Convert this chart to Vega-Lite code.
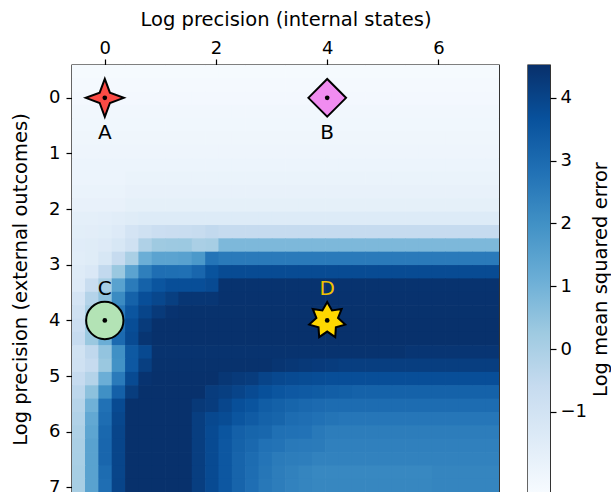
{
"$schema": "https://vega.github.io/schema/vega-lite/v6.json",
"padding": {"left": 9, "top": 8, "right": 0, "bottom": 0},
"config": {
  "font": "DejaVu Sans",
  "view": {"stroke": "black", "strokeWidth": 1.4},
  "axis": {"grid": false, "domain": false, "labelColor": "black", "titleColor": "black", "tickColor": "black", "labelFontSize": 18, "titleFontSize": 19.5, "titleFontWeight": "normal", "tickSize": 6, "tickWidth": 1.2, "labelFont": "DejaVu Sans", "titleFont": "DejaVu Sans"}
},
"datasets": {
"markers": [{"name":"A","x":0,"y":0},{"name":"B","x":4,"y":0},{"name":"C","x":0,"y":4},{"name":"D","x":4,"y":4}],
"colorbar": [{"lo":-2.29,"hi":4.52}],
"grid": [
{"x":-0.47,"y":-0.47,"v":-2.22},{"x":-0.23,"y":-0.47,"v":-2.22},{"x":0.01,"y":-0.47,"v":-2.22},{"x":0.25,"y":-0.47,"v":-2.22},{"x":0.49,"y":-0.47,"v":-2.22},{"x":0.73,"y":-0.47,"v":-2.22},{"x":0.97,"y":-0.47,"v":-2.22},{"x":1.21,"y":-0.47,"v":-2.22},{"x":1.45,"y":-0.47,"v":-2.22},{"x":1.69,"y":-0.47,"v":-2.22},{"x":1.93,"y":-0.47,"v":-2.22},{"x":2.17,"y":-0.47,"v":-2.22},{"x":2.41,"y":-0.47,"v":-2.22},{"x":2.65,"y":-0.47,"v":-2.22},{"x":2.89,"y":-0.47,"v":-2.22},{"x":3.13,"y":-0.47,"v":-2.22},{"x":3.37,"y":-0.47,"v":-2.22},{"x":3.61,"y":-0.47,"v":-2.22},{"x":3.85,"y":-0.47,"v":-2.22},{"x":4.09,"y":-0.47,"v":-2.22},{"x":4.33,"y":-0.47,"v":-2.22},{"x":4.57,"y":-0.47,"v":-2.22},{"x":4.81,"y":-0.47,"v":-2.22},{"x":5.05,"y":-0.47,"v":-2.22},{"x":5.29,"y":-0.47,"v":-2.22},{"x":5.53,"y":-0.47,"v":-2.22},{"x":5.77,"y":-0.47,"v":-2.22},{"x":6.01,"y":-0.47,"v":-2.22},{"x":6.25,"y":-0.47,"v":-2.22},{"x":6.49,"y":-0.47,"v":-2.22},{"x":6.73,"y":-0.47,"v":-2.22},{"x":6.97,"y":-0.47,"v":-2.22},
{"x":-0.47,"y":-0.23,"v":-2.18},{"x":-0.23,"y":-0.23,"v":-2.18},{"x":0.01,"y":-0.23,"v":-2.18},{"x":0.25,"y":-0.23,"v":-2.18},{"x":0.49,"y":-0.23,"v":-2.18},{"x":0.73,"y":-0.23,"v":-2.18},{"x":0.97,"y":-0.23,"v":-2.18},{"x":1.21,"y":-0.23,"v":-2.18},{"x":1.45,"y":-0.23,"v":-2.18},{"x":1.69,"y":-0.23,"v":-2.18},{"x":1.93,"y":-0.23,"v":-2.18},{"x":2.17,"y":-0.23,"v":-2.18},{"x":2.41,"y":-0.23,"v":-2.18},{"x":2.65,"y":-0.23,"v":-2.18},{"x":2.89,"y":-0.23,"v":-2.18},{"x":3.13,"y":-0.23,"v":-2.18},{"x":3.37,"y":-0.23,"v":-2.18},{"x":3.61,"y":-0.23,"v":-2.18},{"x":3.85,"y":-0.23,"v":-2.18},{"x":4.09,"y":-0.23,"v":-2.18},{"x":4.33,"y":-0.23,"v":-2.18},{"x":4.57,"y":-0.23,"v":-2.18},{"x":4.81,"y":-0.23,"v":-2.18},{"x":5.05,"y":-0.23,"v":-2.18},{"x":5.29,"y":-0.23,"v":-2.18},{"x":5.53,"y":-0.23,"v":-2.18},{"x":5.77,"y":-0.23,"v":-2.18},{"x":6.01,"y":-0.23,"v":-2.18},{"x":6.25,"y":-0.23,"v":-2.18},{"x":6.49,"y":-0.23,"v":-2.18},{"x":6.73,"y":-0.23,"v":-2.18},{"x":6.97,"y":-0.23,"v":-2.18},
{"x":-0.47,"y":0.01,"v":-2.14},{"x":-0.23,"y":0.01,"v":-2.14},{"x":0.01,"y":0.01,"v":-2.14},{"x":0.25,"y":0.01,"v":-2.14},{"x":0.49,"y":0.01,"v":-2.14},{"x":0.73,"y":0.01,"v":-2.14},{"x":0.97,"y":0.01,"v":-2.14},{"x":1.21,"y":0.01,"v":-2.14},{"x":1.45,"y":0.01,"v":-2.14},{"x":1.69,"y":0.01,"v":-2.14},{"x":1.93,"y":0.01,"v":-2.14},{"x":2.17,"y":0.01,"v":-2.14},{"x":2.41,"y":0.01,"v":-2.14},{"x":2.65,"y":0.01,"v":-2.14},{"x":2.89,"y":0.01,"v":-2.14},{"x":3.13,"y":0.01,"v":-2.14},{"x":3.37,"y":0.01,"v":-2.14},{"x":3.61,"y":0.01,"v":-2.14},{"x":3.85,"y":0.01,"v":-2.14},{"x":4.09,"y":0.01,"v":-2.14},{"x":4.33,"y":0.01,"v":-2.14},{"x":4.57,"y":0.01,"v":-2.14},{"x":4.81,"y":0.01,"v":-2.14},{"x":5.05,"y":0.01,"v":-2.14},{"x":5.29,"y":0.01,"v":-2.14},{"x":5.53,"y":0.01,"v":-2.14},{"x":5.77,"y":0.01,"v":-2.14},{"x":6.01,"y":0.01,"v":-2.14},{"x":6.25,"y":0.01,"v":-2.14},{"x":6.49,"y":0.01,"v":-2.14},{"x":6.73,"y":0.01,"v":-2.14},{"x":6.97,"y":0.01,"v":-2.14},
{"x":-0.47,"y":0.25,"v":-2.1},{"x":-0.23,"y":0.25,"v":-2.1},{"x":0.01,"y":0.25,"v":-2.1},{"x":0.25,"y":0.25,"v":-2.1},{"x":0.49,"y":0.25,"v":-2.1},{"x":0.73,"y":0.25,"v":-2.1},{"x":0.97,"y":0.25,"v":-2.1},{"x":1.21,"y":0.25,"v":-2.1},{"x":1.45,"y":0.25,"v":-2.1},{"x":1.69,"y":0.25,"v":-2.1},{"x":1.93,"y":0.25,"v":-2.1},{"x":2.17,"y":0.25,"v":-2.1},{"x":2.41,"y":0.25,"v":-2.1},{"x":2.65,"y":0.25,"v":-2.1},{"x":2.89,"y":0.25,"v":-2.1},{"x":3.13,"y":0.25,"v":-2.1},{"x":3.37,"y":0.25,"v":-2.1},{"x":3.61,"y":0.25,"v":-2.1},{"x":3.85,"y":0.25,"v":-2.1},{"x":4.09,"y":0.25,"v":-2.1},{"x":4.33,"y":0.25,"v":-2.1},{"x":4.57,"y":0.25,"v":-2.1},{"x":4.81,"y":0.25,"v":-2.1},{"x":5.05,"y":0.25,"v":-2.1},{"x":5.29,"y":0.25,"v":-2.1},{"x":5.53,"y":0.25,"v":-2.1},{"x":5.77,"y":0.25,"v":-2.1},{"x":6.01,"y":0.25,"v":-2.1},{"x":6.25,"y":0.25,"v":-2.1},{"x":6.49,"y":0.25,"v":-2.1},{"x":6.73,"y":0.25,"v":-2.1},{"x":6.97,"y":0.25,"v":-2.1},
{"x":-0.47,"y":0.49,"v":-2.06},{"x":-0.23,"y":0.49,"v":-2.06},{"x":0.01,"y":0.49,"v":-2.06},{"x":0.25,"y":0.49,"v":-2.06},{"x":0.49,"y":0.49,"v":-2.06},{"x":0.73,"y":0.49,"v":-2.06},{"x":0.97,"y":0.49,"v":-2.06},{"x":1.21,"y":0.49,"v":-2.06},{"x":1.45,"y":0.49,"v":-2.06},{"x":1.69,"y":0.49,"v":-2.06},{"x":1.93,"y":0.49,"v":-2.06},{"x":2.17,"y":0.49,"v":-2.06},{"x":2.41,"y":0.49,"v":-2.06},{"x":2.65,"y":0.49,"v":-2.06},{"x":2.89,"y":0.49,"v":-2.06},{"x":3.13,"y":0.49,"v":-2.06},{"x":3.37,"y":0.49,"v":-2.06},{"x":3.61,"y":0.49,"v":-2.06},{"x":3.85,"y":0.49,"v":-2.06},{"x":4.09,"y":0.49,"v":-2.06},{"x":4.33,"y":0.49,"v":-2.06},{"x":4.57,"y":0.49,"v":-2.06},{"x":4.81,"y":0.49,"v":-2.06},{"x":5.05,"y":0.49,"v":-2.06},{"x":5.29,"y":0.49,"v":-2.06},{"x":5.53,"y":0.49,"v":-2.06},{"x":5.77,"y":0.49,"v":-2.06},{"x":6.01,"y":0.49,"v":-2.06},{"x":6.25,"y":0.49,"v":-2.06},{"x":6.49,"y":0.49,"v":-2.06},{"x":6.73,"y":0.49,"v":-2.06},{"x":6.97,"y":0.49,"v":-2.06},
{"x":-0.47,"y":0.73,"v":-2.02},{"x":-0.23,"y":0.73,"v":-2.02},{"x":0.01,"y":0.73,"v":-2.02},{"x":0.25,"y":0.73,"v":-2.02},{"x":0.49,"y":0.73,"v":-2.02},{"x":0.73,"y":0.73,"v":-2.02},{"x":0.97,"y":0.73,"v":-2.02},{"x":1.21,"y":0.73,"v":-2.02},{"x":1.45,"y":0.73,"v":-2.02},{"x":1.69,"y":0.73,"v":-2.02},{"x":1.93,"y":0.73,"v":-2.02},{"x":2.17,"y":0.73,"v":-2.02},{"x":2.41,"y":0.73,"v":-2.02},{"x":2.65,"y":0.73,"v":-2.02},{"x":2.89,"y":0.73,"v":-2.02},{"x":3.13,"y":0.73,"v":-2.02},{"x":3.37,"y":0.73,"v":-2.02},{"x":3.61,"y":0.73,"v":-2.02},{"x":3.85,"y":0.73,"v":-2.02},{"x":4.09,"y":0.73,"v":-2.02},{"x":4.33,"y":0.73,"v":-2.02},{"x":4.57,"y":0.73,"v":-2.02},{"x":4.81,"y":0.73,"v":-2.02},{"x":5.05,"y":0.73,"v":-2.02},{"x":5.29,"y":0.73,"v":-2.02},{"x":5.53,"y":0.73,"v":-2.02},{"x":5.77,"y":0.73,"v":-2.02},{"x":6.01,"y":0.73,"v":-2.02},{"x":6.25,"y":0.73,"v":-2.02},{"x":6.49,"y":0.73,"v":-2.02},{"x":6.73,"y":0.73,"v":-2.02},{"x":6.97,"y":0.73,"v":-2.02},
{"x":-0.47,"y":0.97,"v":-1.97},{"x":-0.23,"y":0.97,"v":-1.97},{"x":0.01,"y":0.97,"v":-1.97},{"x":0.25,"y":0.97,"v":-1.97},{"x":0.49,"y":0.97,"v":-1.97},{"x":0.73,"y":0.97,"v":-1.97},{"x":0.97,"y":0.97,"v":-1.97},{"x":1.21,"y":0.97,"v":-1.97},{"x":1.45,"y":0.97,"v":-1.97},{"x":1.69,"y":0.97,"v":-1.97},{"x":1.93,"y":0.97,"v":-1.97},{"x":2.17,"y":0.97,"v":-1.97},{"x":2.41,"y":0.97,"v":-1.97},{"x":2.65,"y":0.97,"v":-1.97},{"x":2.89,"y":0.97,"v":-1.97},{"x":3.13,"y":0.97,"v":-1.97},{"x":3.37,"y":0.97,"v":-1.97},{"x":3.61,"y":0.97,"v":-1.97},{"x":3.85,"y":0.97,"v":-1.97},{"x":4.09,"y":0.97,"v":-1.97},{"x":4.33,"y":0.97,"v":-1.97},{"x":4.57,"y":0.97,"v":-1.97},{"x":4.81,"y":0.97,"v":-1.97},{"x":5.05,"y":0.97,"v":-1.97},{"x":5.29,"y":0.97,"v":-1.97},{"x":5.53,"y":0.97,"v":-1.97},{"x":5.77,"y":0.97,"v":-1.97},{"x":6.01,"y":0.97,"v":-1.97},{"x":6.25,"y":0.97,"v":-1.97},{"x":6.49,"y":0.97,"v":-1.97},{"x":6.73,"y":0.97,"v":-1.97},{"x":6.97,"y":0.97,"v":-1.97},
{"x":-0.47,"y":1.21,"v":-1.92},{"x":-0.23,"y":1.21,"v":-1.92},{"x":0.01,"y":1.21,"v":-1.92},{"x":0.25,"y":1.21,"v":-1.92},{"x":0.49,"y":1.21,"v":-1.92},{"x":0.73,"y":1.21,"v":-1.92},{"x":0.97,"y":1.21,"v":-1.92},{"x":1.21,"y":1.21,"v":-1.92},{"x":1.45,"y":1.21,"v":-1.92},{"x":1.69,"y":1.21,"v":-1.92},{"x":1.93,"y":1.21,"v":-1.92},{"x":2.17,"y":1.21,"v":-1.92},{"x":2.41,"y":1.21,"v":-1.92},{"x":2.65,"y":1.21,"v":-1.92},{"x":2.89,"y":1.21,"v":-1.92},{"x":3.13,"y":1.21,"v":-1.92},{"x":3.37,"y":1.21,"v":-1.92},{"x":3.61,"y":1.21,"v":-1.92},{"x":3.85,"y":1.21,"v":-1.92},{"x":4.09,"y":1.21,"v":-1.92},{"x":4.33,"y":1.21,"v":-1.92},{"x":4.57,"y":1.21,"v":-1.92},{"x":4.81,"y":1.21,"v":-1.92},{"x":5.05,"y":1.21,"v":-1.92},{"x":5.29,"y":1.21,"v":-1.92},{"x":5.53,"y":1.21,"v":-1.92},{"x":5.77,"y":1.21,"v":-1.92},{"x":6.01,"y":1.21,"v":-1.92},{"x":6.25,"y":1.21,"v":-1.92},{"x":6.49,"y":1.21,"v":-1.92},{"x":6.73,"y":1.21,"v":-1.92},{"x":6.97,"y":1.21,"v":-1.92},
{"x":-0.47,"y":1.45,"v":-1.92},{"x":-0.23,"y":1.45,"v":-1.92},{"x":0.01,"y":1.45,"v":-1.92},{"x":0.25,"y":1.45,"v":-1.92},{"x":0.49,"y":1.45,"v":-1.86},{"x":0.73,"y":1.45,"v":-1.86},{"x":0.97,"y":1.45,"v":-1.86},{"x":1.21,"y":1.45,"v":-1.86},{"x":1.45,"y":1.45,"v":-1.86},{"x":1.69,"y":1.45,"v":-1.86},{"x":1.93,"y":1.45,"v":-1.86},{"x":2.17,"y":1.45,"v":-1.86},{"x":2.41,"y":1.45,"v":-1.86},{"x":2.65,"y":1.45,"v":-1.86},{"x":2.89,"y":1.45,"v":-1.86},{"x":3.13,"y":1.45,"v":-1.86},{"x":3.37,"y":1.45,"v":-1.86},{"x":3.61,"y":1.45,"v":-1.86},{"x":3.85,"y":1.45,"v":-1.86},{"x":4.09,"y":1.45,"v":-1.86},{"x":4.33,"y":1.45,"v":-1.86},{"x":4.57,"y":1.45,"v":-1.86},{"x":4.81,"y":1.45,"v":-1.86},{"x":5.05,"y":1.45,"v":-1.86},{"x":5.29,"y":1.45,"v":-1.86},{"x":5.53,"y":1.45,"v":-1.86},{"x":5.77,"y":1.45,"v":-1.86},{"x":6.01,"y":1.45,"v":-1.86},{"x":6.25,"y":1.45,"v":-1.86},{"x":6.49,"y":1.45,"v":-1.86},{"x":6.73,"y":1.45,"v":-1.86},{"x":6.97,"y":1.45,"v":-1.86},
{"x":-0.47,"y":1.69,"v":-1.85},{"x":-0.23,"y":1.69,"v":-1.85},{"x":0.01,"y":1.69,"v":-1.85},{"x":0.25,"y":1.69,"v":-1.85},{"x":0.49,"y":1.69,"v":-1.78},{"x":0.73,"y":1.69,"v":-1.78},{"x":0.97,"y":1.69,"v":-1.78},{"x":1.21,"y":1.69,"v":-1.78},{"x":1.45,"y":1.69,"v":-1.78},{"x":1.69,"y":1.69,"v":-1.78},{"x":1.93,"y":1.69,"v":-1.78},{"x":2.17,"y":1.69,"v":-1.78},{"x":2.41,"y":1.69,"v":-1.78},{"x":2.65,"y":1.69,"v":-1.78},{"x":2.89,"y":1.69,"v":-1.78},{"x":3.13,"y":1.69,"v":-1.78},{"x":3.37,"y":1.69,"v":-1.78},{"x":3.61,"y":1.69,"v":-1.78},{"x":3.85,"y":1.69,"v":-1.78},{"x":4.09,"y":1.69,"v":-1.78},{"x":4.33,"y":1.69,"v":-1.78},{"x":4.57,"y":1.69,"v":-1.78},{"x":4.81,"y":1.69,"v":-1.78},{"x":5.05,"y":1.69,"v":-1.78},{"x":5.29,"y":1.69,"v":-1.78},{"x":5.53,"y":1.69,"v":-1.78},{"x":5.77,"y":1.69,"v":-1.78},{"x":6.01,"y":1.69,"v":-1.78},{"x":6.25,"y":1.69,"v":-1.78},{"x":6.49,"y":1.69,"v":-1.78},{"x":6.73,"y":1.69,"v":-1.78},{"x":6.97,"y":1.69,"v":-1.78},
{"x":-0.47,"y":1.93,"v":-1.78},{"x":-0.23,"y":1.93,"v":-1.78},{"x":0.01,"y":1.93,"v":-1.78},{"x":0.25,"y":1.93,"v":-1.78},{"x":0.49,"y":1.93,"v":-1.68},{"x":0.73,"y":1.93,"v":-1.68},{"x":0.97,"y":1.93,"v":-1.68},{"x":1.21,"y":1.93,"v":-1.68},{"x":1.45,"y":1.93,"v":-1.68},{"x":1.69,"y":1.93,"v":-1.68},{"x":1.93,"y":1.93,"v":-1.68},{"x":2.17,"y":1.93,"v":-1.68},{"x":2.41,"y":1.93,"v":-1.68},{"x":2.65,"y":1.93,"v":-1.68},{"x":2.89,"y":1.93,"v":-1.68},{"x":3.13,"y":1.93,"v":-1.68},{"x":3.37,"y":1.93,"v":-1.68},{"x":3.61,"y":1.93,"v":-1.68},{"x":3.85,"y":1.93,"v":-1.68},{"x":4.09,"y":1.93,"v":-1.68},{"x":4.33,"y":1.93,"v":-1.68},{"x":4.57,"y":1.93,"v":-1.68},{"x":4.81,"y":1.93,"v":-1.68},{"x":5.05,"y":1.93,"v":-1.68},{"x":5.29,"y":1.93,"v":-1.68},{"x":5.53,"y":1.93,"v":-1.68},{"x":5.77,"y":1.93,"v":-1.68},{"x":6.01,"y":1.93,"v":-1.68},{"x":6.25,"y":1.93,"v":-1.68},{"x":6.49,"y":1.93,"v":-1.68},{"x":6.73,"y":1.93,"v":-1.68},{"x":6.97,"y":1.93,"v":-1.68},
{"x":-0.47,"y":2.17,"v":-1.65},{"x":-0.23,"y":2.17,"v":-1.65},{"x":0.01,"y":2.17,"v":-1.6},{"x":0.25,"y":2.17,"v":-1.55},{"x":0.49,"y":2.17,"v":-1.48},{"x":0.73,"y":2.17,"v":-1.42},{"x":0.97,"y":2.17,"v":-1.42},{"x":1.21,"y":2.17,"v":-1.42},{"x":1.45,"y":2.17,"v":-1.42},{"x":1.69,"y":2.17,"v":-1.42},{"x":1.93,"y":2.17,"v":-1.42},{"x":2.17,"y":2.17,"v":-1.42},{"x":2.41,"y":2.17,"v":-1.42},{"x":2.65,"y":2.17,"v":-1.42},{"x":2.89,"y":2.17,"v":-1.42},{"x":3.13,"y":2.17,"v":-1.42},{"x":3.37,"y":2.17,"v":-1.42},{"x":3.61,"y":2.17,"v":-1.42},{"x":3.85,"y":2.17,"v":-1.42},{"x":4.09,"y":2.17,"v":-1.42},{"x":4.33,"y":2.17,"v":-1.42},{"x":4.57,"y":2.17,"v":-1.42},{"x":4.81,"y":2.17,"v":-1.42},{"x":5.05,"y":2.17,"v":-1.42},{"x":5.29,"y":2.17,"v":-1.42},{"x":5.53,"y":2.17,"v":-1.42},{"x":5.77,"y":2.17,"v":-1.42},{"x":6.01,"y":2.17,"v":-1.42},{"x":6.25,"y":2.17,"v":-1.42},{"x":6.49,"y":2.17,"v":-1.42},{"x":6.73,"y":2.17,"v":-1.42},{"x":6.97,"y":2.17,"v":-1.42},
{"x":-0.47,"y":2.41,"v":-1.58},{"x":-0.23,"y":2.41,"v":-1.56},{"x":0.01,"y":2.41,"v":-1.52},{"x":0.25,"y":2.41,"v":-1.4},{"x":0.49,"y":2.41,"v":-1.08},{"x":0.73,"y":2.41,"v":-0.91},{"x":0.97,"y":2.41,"v":-0.75},{"x":1.21,"y":2.41,"v":-0.72},{"x":1.45,"y":2.41,"v":-0.7},{"x":1.69,"y":2.41,"v":-0.62},{"x":1.93,"y":2.41,"v":-0.5},{"x":2.17,"y":2.41,"v":-0.59},{"x":2.41,"y":2.41,"v":-0.59},{"x":2.65,"y":2.41,"v":-0.59},{"x":2.89,"y":2.41,"v":-0.59},{"x":3.13,"y":2.41,"v":-0.59},{"x":3.37,"y":2.41,"v":-0.59},{"x":3.61,"y":2.41,"v":-0.59},{"x":3.85,"y":2.41,"v":-0.59},{"x":4.09,"y":2.41,"v":-0.59},{"x":4.33,"y":2.41,"v":-0.59},{"x":4.57,"y":2.41,"v":-0.59},{"x":4.81,"y":2.41,"v":-0.59},{"x":5.05,"y":2.41,"v":-0.59},{"x":5.29,"y":2.41,"v":-0.59},{"x":5.53,"y":2.41,"v":-0.59},{"x":5.77,"y":2.41,"v":-0.59},{"x":6.01,"y":2.41,"v":-0.59},{"x":6.25,"y":2.41,"v":-0.59},{"x":6.49,"y":2.41,"v":-0.59},{"x":6.73,"y":2.41,"v":-0.59},{"x":6.97,"y":2.41,"v":-0.59},
{"x":-0.47,"y":2.65,"v":-1.5},{"x":-0.23,"y":2.65,"v":-1.48},{"x":0.01,"y":2.65,"v":-1.4},{"x":0.25,"y":2.65,"v":-1.2},{"x":0.49,"y":2.65,"v":-0.91},{"x":0.73,"y":2.65,"v":-0.1},{"x":0.97,"y":2.65,"v":0.25},{"x":1.21,"y":2.65,"v":0.28},{"x":1.45,"y":2.65,"v":0.3},{"x":1.69,"y":2.65,"v":0.0},{"x":1.93,"y":2.65,"v":0.07},{"x":2.17,"y":2.65,"v":0.81},{"x":2.41,"y":2.65,"v":0.81},{"x":2.65,"y":2.65,"v":0.81},{"x":2.89,"y":2.65,"v":0.81},{"x":3.13,"y":2.65,"v":0.81},{"x":3.37,"y":2.65,"v":0.81},{"x":3.61,"y":2.65,"v":0.81},{"x":3.85,"y":2.65,"v":0.81},{"x":4.09,"y":2.65,"v":0.81},{"x":4.33,"y":2.65,"v":0.81},{"x":4.57,"y":2.65,"v":0.81},{"x":4.81,"y":2.65,"v":0.81},{"x":5.05,"y":2.65,"v":0.81},{"x":5.29,"y":2.65,"v":0.81},{"x":5.53,"y":2.65,"v":0.81},{"x":5.77,"y":2.65,"v":0.81},{"x":6.01,"y":2.65,"v":0.81},{"x":6.25,"y":2.65,"v":0.81},{"x":6.49,"y":2.65,"v":0.81},{"x":6.73,"y":2.65,"v":0.81},{"x":6.97,"y":2.65,"v":0.81},
{"x":-0.47,"y":2.89,"v":-1.55},{"x":-0.23,"y":2.89,"v":-1.47},{"x":0.01,"y":2.89,"v":-1.2},{"x":0.25,"y":2.89,"v":-0.6},{"x":0.49,"y":2.89,"v":0.0},{"x":0.73,"y":2.89,"v":1.12},{"x":0.97,"y":2.89,"v":1.45},{"x":1.21,"y":2.89,"v":1.45},{"x":1.45,"y":2.89,"v":1.5},{"x":1.69,"y":2.89,"v":1.75},{"x":1.93,"y":2.89,"v":2.74},{"x":2.17,"y":2.89,"v":2.59},{"x":2.41,"y":2.89,"v":2.59},{"x":2.65,"y":2.89,"v":2.59},{"x":2.89,"y":2.89,"v":2.59},{"x":3.13,"y":2.89,"v":2.59},{"x":3.37,"y":2.89,"v":2.59},{"x":3.61,"y":2.89,"v":2.59},{"x":3.85,"y":2.89,"v":2.59},{"x":4.09,"y":2.89,"v":2.59},{"x":4.33,"y":2.89,"v":2.59},{"x":4.57,"y":2.89,"v":2.59},{"x":4.81,"y":2.89,"v":2.59},{"x":5.05,"y":2.89,"v":2.59},{"x":5.29,"y":2.89,"v":2.59},{"x":5.53,"y":2.89,"v":2.59},{"x":5.77,"y":2.89,"v":2.59},{"x":6.01,"y":2.89,"v":2.59},{"x":6.25,"y":2.89,"v":2.59},{"x":6.49,"y":2.89,"v":2.59},{"x":6.73,"y":2.89,"v":2.59},{"x":6.97,"y":2.89,"v":2.59},
{"x":-0.47,"y":3.13,"v":-1.45},{"x":-0.23,"y":3.13,"v":-1.3},{"x":0.01,"y":3.13,"v":-0.5},{"x":0.25,"y":3.13,"v":0.33},{"x":0.49,"y":3.13,"v":1.45},{"x":0.73,"y":3.13,"v":2.45},{"x":0.97,"y":3.13,"v":2.9},{"x":1.21,"y":3.13,"v":2.88},{"x":1.45,"y":3.13,"v":2.85},{"x":1.69,"y":3.13,"v":3.1},{"x":1.93,"y":3.13,"v":3.62},{"x":2.17,"y":3.13,"v":3.82},{"x":2.41,"y":3.13,"v":3.82},{"x":2.65,"y":3.13,"v":3.82},{"x":2.89,"y":3.13,"v":3.82},{"x":3.13,"y":3.13,"v":3.82},{"x":3.37,"y":3.13,"v":3.82},{"x":3.61,"y":3.13,"v":3.82},{"x":3.85,"y":3.13,"v":3.82},{"x":4.09,"y":3.13,"v":3.82},{"x":4.33,"y":3.13,"v":3.82},{"x":4.57,"y":3.13,"v":3.82},{"x":4.81,"y":3.13,"v":3.82},{"x":5.05,"y":3.13,"v":3.82},{"x":5.29,"y":3.13,"v":3.82},{"x":5.53,"y":3.13,"v":3.82},{"x":5.77,"y":3.13,"v":3.82},{"x":6.01,"y":3.13,"v":3.82},{"x":6.25,"y":3.13,"v":3.82},{"x":6.49,"y":3.13,"v":3.82},{"x":6.73,"y":3.13,"v":3.82},{"x":6.97,"y":3.13,"v":3.82},
{"x":-0.47,"y":3.37,"v":-1.4},{"x":-0.23,"y":3.37,"v":-0.7},{"x":0.01,"y":3.37,"v":0.07},{"x":0.25,"y":3.37,"v":1.48},{"x":0.49,"y":3.37,"v":2.55},{"x":0.73,"y":3.37,"v":3.22},{"x":0.97,"y":3.37,"v":3.57},{"x":1.21,"y":3.37,"v":3.74},{"x":1.45,"y":3.37,"v":3.74},{"x":1.69,"y":3.37,"v":3.74},{"x":1.93,"y":3.37,"v":3.84},{"x":2.17,"y":3.37,"v":4.45},{"x":2.41,"y":3.37,"v":4.45},{"x":2.65,"y":3.37,"v":4.45},{"x":2.89,"y":3.37,"v":4.45},{"x":3.13,"y":3.37,"v":4.45},{"x":3.37,"y":3.37,"v":4.45},{"x":3.61,"y":3.37,"v":4.45},{"x":3.85,"y":3.37,"v":4.45},{"x":4.09,"y":3.37,"v":4.45},{"x":4.33,"y":3.37,"v":4.45},{"x":4.57,"y":3.37,"v":4.45},{"x":4.81,"y":3.37,"v":4.45},{"x":5.05,"y":3.37,"v":4.45},{"x":5.29,"y":3.37,"v":4.45},{"x":5.53,"y":3.37,"v":4.45},{"x":5.77,"y":3.37,"v":4.45},{"x":6.01,"y":3.37,"v":4.45},{"x":6.25,"y":3.37,"v":4.45},{"x":6.49,"y":3.37,"v":4.45},{"x":6.73,"y":3.37,"v":4.45},{"x":6.97,"y":3.37,"v":4.45},
{"x":-0.47,"y":3.61,"v":-1.08},{"x":-0.23,"y":3.61,"v":-0.2},{"x":0.01,"y":3.61,"v":0.54},{"x":0.25,"y":3.61,"v":2.15},{"x":0.49,"y":3.61,"v":3.22},{"x":0.73,"y":3.61,"v":3.74},{"x":0.97,"y":3.61,"v":3.93},{"x":1.21,"y":3.61,"v":4.13},{"x":1.45,"y":3.61,"v":4.36},{"x":1.69,"y":3.61,"v":4.36},{"x":1.93,"y":3.61,"v":4.36},{"x":2.17,"y":3.61,"v":4.47},{"x":2.41,"y":3.61,"v":4.47},{"x":2.65,"y":3.61,"v":4.47},{"x":2.89,"y":3.61,"v":4.47},{"x":3.13,"y":3.61,"v":4.47},{"x":3.37,"y":3.61,"v":4.47},{"x":3.61,"y":3.61,"v":4.47},{"x":3.85,"y":3.61,"v":4.47},{"x":4.09,"y":3.61,"v":4.47},{"x":4.33,"y":3.61,"v":4.47},{"x":4.57,"y":3.61,"v":4.47},{"x":4.81,"y":3.61,"v":4.47},{"x":5.05,"y":3.61,"v":4.47},{"x":5.29,"y":3.61,"v":4.47},{"x":5.53,"y":3.61,"v":4.47},{"x":5.77,"y":3.61,"v":4.47},{"x":6.01,"y":3.61,"v":4.47},{"x":6.25,"y":3.61,"v":4.47},{"x":6.49,"y":3.61,"v":4.47},{"x":6.73,"y":3.61,"v":4.47},{"x":6.97,"y":3.61,"v":4.47},
{"x":-0.47,"y":3.85,"v":-0.91},{"x":-0.23,"y":3.85,"v":0.07},{"x":0.01,"y":3.85,"v":0.95},{"x":0.25,"y":3.85,"v":2.6},{"x":0.49,"y":3.85,"v":3.57},{"x":0.73,"y":3.85,"v":3.98},{"x":0.97,"y":3.85,"v":4.26},{"x":1.21,"y":3.85,"v":4.44},{"x":1.45,"y":3.85,"v":4.48},{"x":1.69,"y":3.85,"v":4.48},{"x":1.93,"y":3.85,"v":4.48},{"x":2.17,"y":3.85,"v":4.48},{"x":2.41,"y":3.85,"v":4.48},{"x":2.65,"y":3.85,"v":4.48},{"x":2.89,"y":3.85,"v":4.48},{"x":3.13,"y":3.85,"v":4.48},{"x":3.37,"y":3.85,"v":4.48},{"x":3.61,"y":3.85,"v":4.48},{"x":3.85,"y":3.85,"v":4.48},{"x":4.09,"y":3.85,"v":4.48},{"x":4.33,"y":3.85,"v":4.48},{"x":4.57,"y":3.85,"v":4.48},{"x":4.81,"y":3.85,"v":4.48},{"x":5.05,"y":3.85,"v":4.48},{"x":5.29,"y":3.85,"v":4.48},{"x":5.53,"y":3.85,"v":4.48},{"x":5.77,"y":3.85,"v":4.48},{"x":6.01,"y":3.85,"v":4.48},{"x":6.25,"y":3.85,"v":4.48},{"x":6.49,"y":3.85,"v":4.48},{"x":6.73,"y":3.85,"v":4.48},{"x":6.97,"y":3.85,"v":4.48},
{"x":-0.47,"y":4.09,"v":-0.75},{"x":-0.23,"y":4.09,"v":0.33},{"x":0.01,"y":4.09,"v":1.0},{"x":0.25,"y":4.09,"v":2.9},{"x":0.49,"y":4.09,"v":3.77},{"x":0.73,"y":4.09,"v":4.24},{"x":0.97,"y":4.09,"v":4.5},{"x":1.21,"y":4.09,"v":4.5},{"x":1.45,"y":4.09,"v":4.5},{"x":1.69,"y":4.09,"v":4.5},{"x":1.93,"y":4.09,"v":4.5},{"x":2.17,"y":4.09,"v":4.5},{"x":2.41,"y":4.09,"v":4.5},{"x":2.65,"y":4.09,"v":4.5},{"x":2.89,"y":4.09,"v":4.5},{"x":3.13,"y":4.09,"v":4.5},{"x":3.37,"y":4.09,"v":4.5},{"x":3.61,"y":4.09,"v":4.5},{"x":3.85,"y":4.09,"v":4.5},{"x":4.09,"y":4.09,"v":4.5},{"x":4.33,"y":4.09,"v":4.5},{"x":4.57,"y":4.09,"v":4.5},{"x":4.81,"y":4.09,"v":4.5},{"x":5.05,"y":4.09,"v":4.5},{"x":5.29,"y":4.09,"v":4.5},{"x":5.53,"y":4.09,"v":4.5},{"x":5.77,"y":4.09,"v":4.5},{"x":6.01,"y":4.09,"v":4.5},{"x":6.25,"y":4.09,"v":4.5},{"x":6.49,"y":4.09,"v":4.5},{"x":6.73,"y":4.09,"v":4.5},{"x":6.97,"y":4.09,"v":4.5},
{"x":-0.47,"y":4.33,"v":-0.6},{"x":-0.23,"y":4.33,"v":0.33},{"x":0.01,"y":4.33,"v":1.12},{"x":0.25,"y":4.33,"v":3.0},{"x":0.49,"y":4.33,"v":3.84},{"x":0.73,"y":4.33,"v":4.4},{"x":0.97,"y":4.33,"v":4.5},{"x":1.21,"y":4.33,"v":4.5},{"x":1.45,"y":4.33,"v":4.5},{"x":1.69,"y":4.33,"v":4.5},{"x":1.93,"y":4.33,"v":4.5},{"x":2.17,"y":4.33,"v":4.5},{"x":2.41,"y":4.33,"v":4.5},{"x":2.65,"y":4.33,"v":4.5},{"x":2.89,"y":4.33,"v":4.5},{"x":3.13,"y":4.33,"v":4.5},{"x":3.37,"y":4.33,"v":4.5},{"x":3.61,"y":4.33,"v":4.5},{"x":3.85,"y":4.33,"v":4.5},{"x":4.09,"y":4.33,"v":4.5},{"x":4.33,"y":4.33,"v":4.5},{"x":4.57,"y":4.33,"v":4.5},{"x":4.81,"y":4.33,"v":4.5},{"x":5.05,"y":4.33,"v":4.5},{"x":5.29,"y":4.33,"v":4.5},{"x":5.53,"y":4.33,"v":4.5},{"x":5.77,"y":4.33,"v":4.5},{"x":6.01,"y":4.33,"v":4.5},{"x":6.25,"y":4.33,"v":4.5},{"x":6.49,"y":4.33,"v":4.5},{"x":6.73,"y":4.33,"v":4.5},{"x":6.97,"y":4.33,"v":4.5},
{"x":-0.47,"y":4.57,"v":-0.95},{"x":-0.23,"y":4.57,"v":-0.45},{"x":0.01,"y":4.57,"v":0.45},{"x":0.25,"y":4.57,"v":2.03},{"x":0.49,"y":4.57,"v":3.46},{"x":0.73,"y":4.57,"v":3.88},{"x":0.97,"y":4.57,"v":4.45},{"x":1.21,"y":4.57,"v":4.45},{"x":1.45,"y":4.57,"v":4.45},{"x":1.69,"y":4.57,"v":4.45},{"x":1.93,"y":4.57,"v":4.45},{"x":2.17,"y":4.57,"v":4.45},{"x":2.41,"y":4.57,"v":4.45},{"x":2.65,"y":4.57,"v":4.45},{"x":2.89,"y":4.57,"v":4.45},{"x":3.13,"y":4.57,"v":4.45},{"x":3.37,"y":4.57,"v":4.45},{"x":3.61,"y":4.57,"v":4.45},{"x":3.85,"y":4.57,"v":4.45},{"x":4.09,"y":4.57,"v":4.45},{"x":4.33,"y":4.57,"v":4.45},{"x":4.57,"y":4.57,"v":4.45},{"x":4.81,"y":4.57,"v":4.45},{"x":5.05,"y":4.57,"v":4.45},{"x":5.29,"y":4.57,"v":4.45},{"x":5.53,"y":4.57,"v":4.38},{"x":5.77,"y":4.57,"v":4.38},{"x":6.01,"y":4.57,"v":4.38},{"x":6.25,"y":4.57,"v":4.38},{"x":6.49,"y":4.57,"v":4.38},{"x":6.73,"y":4.57,"v":4.38},{"x":6.97,"y":4.57,"v":4.38},
{"x":-0.47,"y":4.81,"v":-0.9},{"x":-0.23,"y":4.81,"v":-0.6},{"x":0.01,"y":4.81,"v":0.33},{"x":0.25,"y":4.81,"v":1.97},{"x":0.49,"y":4.81,"v":3.48},{"x":0.73,"y":4.81,"v":4.13},{"x":0.97,"y":4.81,"v":4.48},{"x":1.21,"y":4.81,"v":4.48},{"x":1.45,"y":4.81,"v":4.48},{"x":1.69,"y":4.81,"v":4.48},{"x":1.93,"y":4.81,"v":4.48},{"x":2.17,"y":4.81,"v":4.48},{"x":2.41,"y":4.81,"v":4.48},{"x":2.65,"y":4.81,"v":4.48},{"x":2.89,"y":4.81,"v":4.48},{"x":3.13,"y":4.81,"v":4.4},{"x":3.37,"y":4.81,"v":4.35},{"x":3.61,"y":4.81,"v":4.3},{"x":3.85,"y":4.81,"v":4.25},{"x":4.09,"y":4.81,"v":4.2},{"x":4.33,"y":4.81,"v":4.15},{"x":4.57,"y":4.81,"v":4.15},{"x":4.81,"y":4.81,"v":4.15},{"x":5.05,"y":4.81,"v":4.15},{"x":5.29,"y":4.81,"v":4.15},{"x":5.53,"y":4.81,"v":4.15},{"x":5.77,"y":4.81,"v":4.15},{"x":6.01,"y":4.81,"v":4.15},{"x":6.25,"y":4.81,"v":4.15},{"x":6.49,"y":4.81,"v":4.15},{"x":6.73,"y":4.81,"v":4.15},{"x":6.97,"y":4.81,"v":4.15},
{"x":-0.47,"y":5.05,"v":-0.59},{"x":-0.23,"y":5.05,"v":-0.2},{"x":0.01,"y":5.05,"v":1.12},{"x":0.25,"y":5.05,"v":2.59},{"x":0.49,"y":5.05,"v":3.84},{"x":0.73,"y":5.05,"v":4.44},{"x":0.97,"y":5.05,"v":4.5},{"x":1.21,"y":5.05,"v":4.5},{"x":1.45,"y":5.05,"v":4.5},{"x":1.69,"y":5.05,"v":4.5},{"x":1.93,"y":5.05,"v":4.5},{"x":2.17,"y":5.05,"v":4.35},{"x":2.41,"y":5.05,"v":4.26},{"x":2.65,"y":5.05,"v":4.2},{"x":2.89,"y":5.05,"v":4.0},{"x":3.13,"y":5.05,"v":3.9},{"x":3.37,"y":5.05,"v":3.84},{"x":3.61,"y":5.05,"v":3.8},{"x":3.85,"y":5.05,"v":3.78},{"x":4.09,"y":5.05,"v":3.74},{"x":4.33,"y":5.05,"v":3.74},{"x":4.57,"y":5.05,"v":3.74},{"x":4.81,"y":5.05,"v":3.74},{"x":5.05,"y":5.05,"v":3.74},{"x":5.29,"y":5.05,"v":3.74},{"x":5.53,"y":5.05,"v":3.74},{"x":5.77,"y":5.05,"v":3.74},{"x":6.01,"y":5.05,"v":3.74},{"x":6.25,"y":5.05,"v":3.74},{"x":6.49,"y":5.05,"v":3.74},{"x":6.73,"y":5.05,"v":3.74},{"x":6.97,"y":5.05,"v":3.74},
{"x":-0.47,"y":5.29,"v":-0.4},{"x":-0.23,"y":5.29,"v":0.54},{"x":0.01,"y":5.29,"v":2.03},{"x":0.25,"y":5.29,"v":3.27},{"x":0.49,"y":5.29,"v":4.19},{"x":0.73,"y":5.29,"v":4.5},{"x":0.97,"y":5.29,"v":4.5},{"x":1.21,"y":5.29,"v":4.5},{"x":1.45,"y":5.29,"v":4.5},{"x":1.69,"y":5.29,"v":4.5},{"x":1.93,"y":5.29,"v":4.2},{"x":2.17,"y":5.29,"v":4.13},{"x":2.41,"y":5.29,"v":4.0},{"x":2.65,"y":5.29,"v":3.84},{"x":2.89,"y":5.29,"v":3.7},{"x":3.13,"y":5.29,"v":3.55},{"x":3.37,"y":5.29,"v":3.48},{"x":3.61,"y":5.29,"v":3.42},{"x":3.85,"y":5.29,"v":3.38},{"x":4.09,"y":5.29,"v":3.33},{"x":4.33,"y":5.29,"v":3.28},{"x":4.57,"y":5.29,"v":3.22},{"x":4.81,"y":5.29,"v":3.22},{"x":5.05,"y":5.29,"v":3.22},{"x":5.29,"y":5.29,"v":3.22},{"x":5.53,"y":5.29,"v":3.22},{"x":5.77,"y":5.29,"v":3.22},{"x":6.01,"y":5.29,"v":3.22},{"x":6.25,"y":5.29,"v":3.22},{"x":6.49,"y":5.29,"v":3.22},{"x":6.73,"y":5.29,"v":3.22},{"x":6.97,"y":5.29,"v":3.22},
{"x":-0.47,"y":5.53,"v":-0.25},{"x":-0.23,"y":5.53,"v":1.03},{"x":0.01,"y":5.53,"v":2.82},{"x":0.25,"y":5.53,"v":3.84},{"x":0.49,"y":5.53,"v":4.5},{"x":0.73,"y":5.53,"v":4.5},{"x":0.97,"y":5.53,"v":4.5},{"x":1.21,"y":5.53,"v":4.5},{"x":1.45,"y":5.53,"v":4.5},{"x":1.69,"y":5.53,"v":4.3},{"x":1.93,"y":5.53,"v":4.2},{"x":2.17,"y":5.53,"v":3.95},{"x":2.41,"y":5.53,"v":3.72},{"x":2.65,"y":5.53,"v":3.6},{"x":2.89,"y":5.53,"v":3.35},{"x":3.13,"y":5.53,"v":3.25},{"x":3.37,"y":5.53,"v":3.15},{"x":3.61,"y":5.53,"v":3.05},{"x":3.85,"y":5.53,"v":3.0},{"x":4.09,"y":5.53,"v":2.95},{"x":4.33,"y":5.53,"v":2.95},{"x":4.57,"y":5.53,"v":2.95},{"x":4.81,"y":5.53,"v":2.95},{"x":5.05,"y":5.53,"v":2.95},{"x":5.29,"y":5.53,"v":2.95},{"x":5.53,"y":5.53,"v":2.95},{"x":5.77,"y":5.53,"v":2.95},{"x":6.01,"y":5.53,"v":2.95},{"x":6.25,"y":5.53,"v":2.95},{"x":6.49,"y":5.53,"v":2.95},{"x":6.73,"y":5.53,"v":2.95},{"x":6.97,"y":5.53,"v":2.95},
{"x":-0.47,"y":5.77,"v":-0.15},{"x":-0.23,"y":5.77,"v":1.3},{"x":0.01,"y":5.77,"v":2.93},{"x":0.25,"y":5.77,"v":3.93},{"x":0.49,"y":5.77,"v":4.5},{"x":0.73,"y":5.77,"v":4.5},{"x":0.97,"y":5.77,"v":4.5},{"x":1.21,"y":5.77,"v":4.5},{"x":1.45,"y":5.77,"v":4.5},{"x":1.69,"y":5.77,"v":4.16},{"x":1.93,"y":5.77,"v":3.9},{"x":2.17,"y":5.77,"v":3.8},{"x":2.41,"y":5.77,"v":3.57},{"x":2.65,"y":5.77,"v":3.4},{"x":2.89,"y":5.77,"v":3.22},{"x":3.13,"y":5.77,"v":3.15},{"x":3.37,"y":5.77,"v":2.95},{"x":3.61,"y":5.77,"v":2.9},{"x":3.85,"y":5.77,"v":2.82},{"x":4.09,"y":5.77,"v":2.75},{"x":4.33,"y":5.77,"v":2.68},{"x":4.57,"y":5.77,"v":2.68},{"x":4.81,"y":5.77,"v":2.68},{"x":5.05,"y":5.77,"v":2.68},{"x":5.29,"y":5.77,"v":2.68},{"x":5.53,"y":5.77,"v":2.68},{"x":5.77,"y":5.77,"v":2.68},{"x":6.01,"y":5.77,"v":2.68},{"x":6.25,"y":5.77,"v":2.68},{"x":6.49,"y":5.77,"v":2.68},{"x":6.73,"y":5.77,"v":2.68},{"x":6.97,"y":5.77,"v":2.68},
{"x":-0.47,"y":6.01,"v":-0.05},{"x":-0.23,"y":6.01,"v":1.4},{"x":0.01,"y":6.01,"v":3.06},{"x":0.25,"y":6.01,"v":3.98},{"x":0.49,"y":6.01,"v":4.5},{"x":0.73,"y":6.01,"v":4.5},{"x":0.97,"y":6.01,"v":4.5},{"x":1.21,"y":6.01,"v":4.5},{"x":1.45,"y":6.01,"v":4.5},{"x":1.69,"y":6.01,"v":4.16},{"x":1.93,"y":6.01,"v":3.84},{"x":2.17,"y":6.01,"v":3.57},{"x":2.41,"y":6.01,"v":3.27},{"x":2.65,"y":6.01,"v":3.15},{"x":2.89,"y":6.01,"v":3.08},{"x":3.13,"y":6.01,"v":2.85},{"x":3.37,"y":6.01,"v":2.82},{"x":3.61,"y":6.01,"v":2.78},{"x":3.85,"y":6.01,"v":2.6},{"x":4.09,"y":6.01,"v":2.52},{"x":4.33,"y":6.01,"v":2.52},{"x":4.57,"y":6.01,"v":2.52},{"x":4.81,"y":6.01,"v":2.52},{"x":5.05,"y":6.01,"v":2.52},{"x":5.29,"y":6.01,"v":2.52},{"x":5.53,"y":6.01,"v":2.52},{"x":5.77,"y":6.01,"v":2.52},{"x":6.01,"y":6.01,"v":2.52},{"x":6.25,"y":6.01,"v":2.52},{"x":6.49,"y":6.01,"v":2.52},{"x":6.73,"y":6.01,"v":2.52},{"x":6.97,"y":6.01,"v":2.52},
{"x":-0.47,"y":6.25,"v":0.0},{"x":-0.23,"y":6.25,"v":1.48},{"x":0.01,"y":6.25,"v":3.1},{"x":0.25,"y":6.25,"v":3.98},{"x":0.49,"y":6.25,"v":4.5},{"x":0.73,"y":6.25,"v":4.5},{"x":0.97,"y":6.25,"v":4.5},{"x":1.21,"y":6.25,"v":4.5},{"x":1.45,"y":6.25,"v":4.5},{"x":1.69,"y":6.25,"v":4.16},{"x":1.93,"y":6.25,"v":3.84},{"x":2.17,"y":6.25,"v":3.51},{"x":2.41,"y":6.25,"v":3.22},{"x":2.65,"y":6.25,"v":3.06},{"x":2.89,"y":6.25,"v":2.82},{"x":3.13,"y":6.25,"v":2.77},{"x":3.37,"y":6.25,"v":2.62},{"x":3.61,"y":6.25,"v":2.59},{"x":3.85,"y":6.25,"v":2.55},{"x":4.09,"y":6.25,"v":2.43},{"x":4.33,"y":6.25,"v":2.43},{"x":4.57,"y":6.25,"v":2.43},{"x":4.81,"y":6.25,"v":2.43},{"x":5.05,"y":6.25,"v":2.43},{"x":5.29,"y":6.25,"v":2.43},{"x":5.53,"y":6.25,"v":2.43},{"x":5.77,"y":6.25,"v":2.43},{"x":6.01,"y":6.25,"v":2.43},{"x":6.25,"y":6.25,"v":2.43},{"x":6.49,"y":6.25,"v":2.43},{"x":6.73,"y":6.25,"v":2.43},{"x":6.97,"y":6.25,"v":2.43},
{"x":-0.47,"y":6.49,"v":0.03},{"x":-0.23,"y":6.49,"v":1.48},{"x":0.01,"y":6.49,"v":3.1},{"x":0.25,"y":6.49,"v":3.98},{"x":0.49,"y":6.49,"v":4.5},{"x":0.73,"y":6.49,"v":4.5},{"x":0.97,"y":6.49,"v":4.5},{"x":1.21,"y":6.49,"v":4.5},{"x":1.45,"y":6.49,"v":4.5},{"x":1.69,"y":6.49,"v":4.16},{"x":1.93,"y":6.49,"v":3.84},{"x":2.17,"y":6.49,"v":3.51},{"x":2.41,"y":6.49,"v":3.16},{"x":2.65,"y":6.49,"v":2.95},{"x":2.89,"y":6.49,"v":2.74},{"x":3.13,"y":6.49,"v":2.55},{"x":3.37,"y":6.49,"v":2.5},{"x":3.61,"y":6.49,"v":2.48},{"x":3.85,"y":6.49,"v":2.38},{"x":4.09,"y":6.49,"v":2.38},{"x":4.33,"y":6.49,"v":2.38},{"x":4.57,"y":6.49,"v":2.38},{"x":4.81,"y":6.49,"v":2.38},{"x":5.05,"y":6.49,"v":2.38},{"x":5.29,"y":6.49,"v":2.38},{"x":5.53,"y":6.49,"v":2.38},{"x":5.77,"y":6.49,"v":2.38},{"x":6.01,"y":6.49,"v":2.38},{"x":6.25,"y":6.49,"v":2.38},{"x":6.49,"y":6.49,"v":2.38},{"x":6.73,"y":6.49,"v":2.38},{"x":6.97,"y":6.49,"v":2.38},
{"x":-0.47,"y":6.73,"v":0.07},{"x":-0.23,"y":6.73,"v":1.48},{"x":0.01,"y":6.73,"v":2.95},{"x":0.25,"y":6.73,"v":3.98},{"x":0.49,"y":6.73,"v":4.5},{"x":0.73,"y":6.73,"v":4.5},{"x":0.97,"y":6.73,"v":4.5},{"x":1.21,"y":6.73,"v":4.5},{"x":1.45,"y":6.73,"v":4.5},{"x":1.69,"y":6.73,"v":4.16},{"x":1.93,"y":6.73,"v":3.84},{"x":2.17,"y":6.73,"v":3.5},{"x":2.41,"y":6.73,"v":3.16},{"x":2.65,"y":6.73,"v":2.92},{"x":2.89,"y":6.73,"v":2.7},{"x":3.13,"y":6.73,"v":2.5},{"x":3.37,"y":6.73,"v":2.4},{"x":3.61,"y":6.73,"v":2.3},{"x":3.85,"y":6.73,"v":2.22},{"x":4.09,"y":6.73,"v":2.22},{"x":4.33,"y":6.73,"v":2.22},{"x":4.57,"y":6.73,"v":2.22},{"x":4.81,"y":6.73,"v":2.22},{"x":5.05,"y":6.73,"v":2.22},{"x":5.29,"y":6.73,"v":2.22},{"x":5.53,"y":6.73,"v":2.22},{"x":5.77,"y":6.73,"v":2.22},{"x":6.01,"y":6.73,"v":2.3},{"x":6.25,"y":6.73,"v":2.3},{"x":6.49,"y":6.73,"v":2.3},{"x":6.73,"y":6.73,"v":2.3},{"x":6.97,"y":6.73,"v":2.3},
{"x":-0.47,"y":6.97,"v":0.07},{"x":-0.23,"y":6.97,"v":1.48},{"x":0.01,"y":6.97,"v":2.9},{"x":0.25,"y":6.97,"v":4.0},{"x":0.49,"y":6.97,"v":4.5},{"x":0.73,"y":6.97,"v":4.5},{"x":0.97,"y":6.97,"v":4.5},{"x":1.21,"y":6.97,"v":4.5},{"x":1.45,"y":6.97,"v":4.5},{"x":1.69,"y":6.97,"v":4.16},{"x":1.93,"y":6.97,"v":3.84},{"x":2.17,"y":6.97,"v":3.5},{"x":2.41,"y":6.97,"v":3.16},{"x":2.65,"y":6.97,"v":2.9},{"x":2.89,"y":6.97,"v":2.65},{"x":3.13,"y":6.97,"v":2.5},{"x":3.37,"y":6.97,"v":2.38},{"x":3.61,"y":6.97,"v":2.3},{"x":3.85,"y":6.97,"v":2.25},{"x":4.09,"y":6.97,"v":2.25},{"x":4.33,"y":6.97,"v":2.25},{"x":4.57,"y":6.97,"v":2.25},{"x":4.81,"y":6.97,"v":2.25},{"x":5.05,"y":6.97,"v":2.25},{"x":5.29,"y":6.97,"v":2.25},{"x":5.53,"y":6.97,"v":2.25},{"x":5.77,"y":6.97,"v":2.25},{"x":6.01,"y":6.97,"v":2.3},{"x":6.25,"y":6.97,"v":2.3},{"x":6.49,"y":6.97,"v":2.3},{"x":6.73,"y":6.97,"v":2.3},{"x":6.97,"y":6.97,"v":2.3}
]
},
"spacing": 27,
"hconcat": [
{
  "width": 427,
  "height": 428,
  "encoding": {
    "x": {"field": "x", "type": "quantitative", "scale": {"domain": [-0.59, 7.09], "nice": false, "zero": false}, "axis": {"orient": "top", "values": [0, 2, 4, 6], "title": "Log precision (internal states)", "labelPadding": 2, "titlePadding": 10, "labelAngle": 0}},
    "y": {"field": "y", "type": "quantitative", "scale": {"domain": [-0.59, 7.1], "nice": false, "zero": false, "reverse": true}, "axis": {"values": [0, 1, 2, 3, 4, 5, 6, 7], "title": "Log precision (external outcomes)", "labelPadding": 6, "titlePadding": 18}}
  },
  "layer": [
    {"data": {"name": "grid"}, "mark": {"type": "rect", "width": 14, "height": 14, "clip": true},
     "encoding": {"color": {"field": "v", "type": "quantitative", "legend": null,
       "scale": {"domain": [-2.29, -1.439, -0.588, 0.264, 1.115, 1.966, 2.818, 3.669, 4.52], "range": ["#f7fbff", "#deebf7", "#c6dbef", "#9ecae1", "#6baed6", "#4292c6", "#2171b5", "#08519c", "#08306b"], "interpolate": "rgb"}}}},
    {"data": {"name": "markers"}, "mark": {"type": "point", "filled": true, "stroke": "black", "strokeWidth": 2, "opacity": 1, "strokeOpacity": 1},
     "encoding": {
       "shape": {"field": "name", "type": "nominal", "legend": null, "scale": {"domain": ["A", "B", "C", "D"], "range": ["M0,-1L0.27,-0.27L1,0L0.27,0.27L0,1L-0.27,0.27L-1,0L-0.27,-0.27Z", "diamond", "circle", "M0,-1L0.26,-0.541L0.782,-0.623L0.585,-0.134L0.975,0.223L0.469,0.374L0.434,0.901L0,0.6L-0.434,0.901L-0.469,0.374L-0.975,0.223L-0.585,-0.134L-0.782,-0.623L-0.26,-0.541Z"]}},
       "fill": {"field": "name", "type": "nominal", "legend": null, "scale": {"domain": ["A", "B", "C", "D"], "range": ["#fb4b45", "#f08cf0", "#b3e3b5", "#ffd700"]}},
       "size": {"field": "name", "type": "ordinal", "legend": null, "scale": {"domain": ["A", "B", "C", "D"], "range": [1444, 1369, 961, 1369]}}
     }},
    {"data": {"name": "markers"}, "mark": {"type": "point", "filled": true, "color": "black", "size": 22, "opacity": 1, "shape": "circle"}},
    {"data": {"name": "markers"}, "transform": [{"filter": "datum.name === 'A' || datum.name === 'B'"}],
     "mark": {"type": "text", "dy": 35, "fontSize": 20, "baseline": "middle", "align": "center", "color": "black"},
     "encoding": {"text": {"field": "name"}}},
    {"data": {"name": "markers"}, "transform": [{"filter": "datum.name === 'C' || datum.name === 'D'"}],
     "mark": {"type": "text", "dy": -31, "fontSize": 20, "baseline": "middle", "align": "center"},
     "encoding": {"text": {"field": "name"}, "color": {"condition": {"test": "datum.name === 'D'", "value": "#f2c200"}, "value": "black"}}}
  ]
},
{
  "width": 22,
  "height": 428,
  "data": {"name": "colorbar"},
  "mark": {"type": "rect", "color": {"gradient": "linear", "x1": 0, "y1": 1, "x2": 0, "y2": 0, "stops": [
    {"offset": 0, "color": "#f7fbff"}, {"offset": 0.125, "color": "#deebf7"}, {"offset": 0.25, "color": "#c6dbef"}, {"offset": 0.375, "color": "#9ecae1"}, {"offset": 0.5, "color": "#6baed6"}, {"offset": 0.625, "color": "#4292c6"}, {"offset": 0.75, "color": "#2171b5"}, {"offset": 0.875, "color": "#08519c"}, {"offset": 1, "color": "#08306b"}]}},
  "encoding": {
    "y": {"field": "lo", "type": "quantitative", "scale": {"domain": [-2.29, 4.52], "nice": false, "zero": false},
      "axis": {"orient": "right", "values": [-1, 0, 1, 2, 3, 4], "title": "Log mean squared error", "labelFontSize": 18, "labelPadding": 4, "titleAngle": 270, "titleBaseline": "top", "titlePadding": 5}},
    "y2": {"field": "hi"}
  }
}
]
}
